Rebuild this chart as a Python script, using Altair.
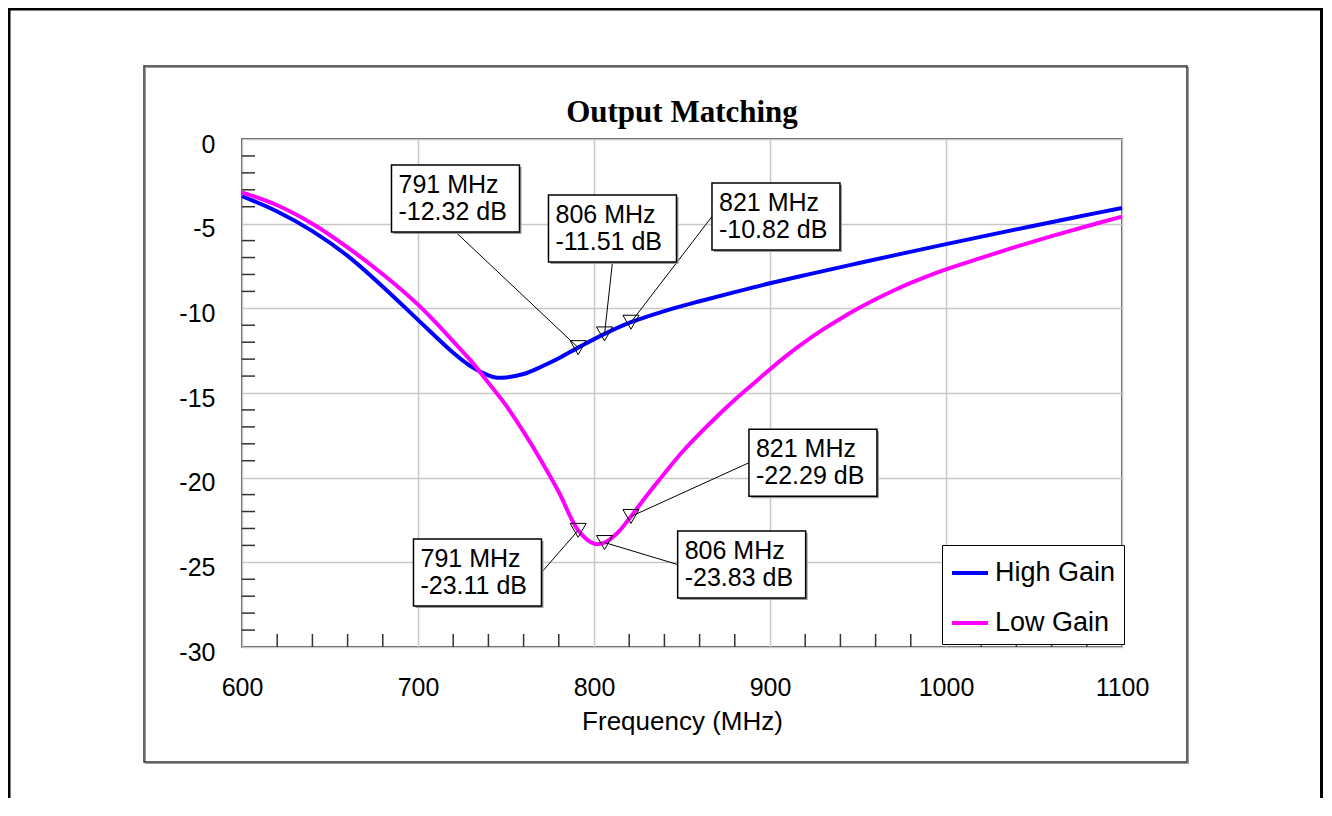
import altair as alt
import pandas as pd

# ---------------- data ----------------
series_names = ["High Gain", "Low Gain"]
series_colors = ["#0000ff", "#ff00ff"]

hg_freq = [600, 620, 640, 660, 680, 700, 720, 730, 740, 745, 750, 760, 770, 780, 791, 806,
           821, 840, 860, 880, 900, 925, 950, 975, 1000, 1025, 1050, 1075, 1100]
hg_db = [-3.38, -4.28, -5.44, -6.90, -8.72, -10.68, -12.62, -13.42, -13.96, -14.10, -14.08,
         -13.88, -13.45, -12.95, -12.32, -11.51, -10.82, -10.16, -9.58, -9.04, -8.52, -7.92,
         -7.34, -6.77, -6.21, -5.66, -5.12, -4.59, -4.07]

lg_freq = [600, 620, 640, 660, 680, 700, 710, 720, 730, 740, 750, 760, 770, 780, 791, 800,
           806, 813, 821, 830, 840, 850, 860, 870, 880, 890, 900, 910, 920, 930, 940, 950,
           960, 970, 980, 990, 1000, 1020, 1040, 1060, 1080, 1100]
lg_db = [-3.15, -3.91, -5.00, -6.40, -7.99, -9.78, -10.83, -11.95, -13.09, -14.40, -15.73,
         -17.30, -19.00, -20.85, -23.11, -23.90, -23.83, -23.30, -22.29, -21.05, -19.75,
         -18.50, -17.40, -16.37, -15.40, -14.50, -13.60, -12.75, -11.97, -11.26, -10.61,
         -10.01, -9.46, -8.96, -8.50, -8.08, -7.70, -7.02, -6.36, -5.74, -5.15, -4.58]

# markers
mk_series = ["High Gain"] * 3 + ["Low Gain"] * 3
mk_freq = [791, 806, 821, 791, 806, 821]
mk_db = [-12.32, -11.51, -10.82, -23.11, -23.83, -22.29]

# marker label placement (box centre in data space) and edge where the leader meets the box
lab_freq = [721.3, 810.5, 903.4, 733.8, 883.9, 924.4]
lab_db = [-3.51, -5.29, -4.58, -25.60, -25.13, -19.12]
lab_side = ["bottom", "bottom", "left", "right", "left", "left"]

# axes
x_major = [600, 700, 800, 900, 1000, 1100]
y_major = [-30, -25, -20, -15, -10, -5, 0]
x_minor = [f for f in range(620, 1100, 20) if f % 100]
y_minor = [v for v in range(-29, 0) if v % 5]

title_text = "Output Matching"
x_title = "Frequency (MHz)"

# ---------------- tables ----------------
curves = pd.DataFrame({
    "freq": hg_freq + lg_freq,
    "db": hg_db + lg_db,
    "series": [series_names[0]] * len(hg_freq) + [series_names[1]] * len(lg_freq),
})
markers = pd.DataFrame({
    "series": mk_series, "freq": mk_freq, "db": mk_db,
    "lab_f": lab_freq, "lab_db": lab_db, "side": lab_side,
    "label": [f"{f} MHz\n{d:.2f} dB" for f, d in zip(mk_freq, mk_db)],
})
xminor_df = pd.DataFrame({"freq": x_minor})
yminor_df = pd.DataFrame({"db": y_minor})
one = pd.DataFrame({"a": [0]})

W, H = 880, 508
FONT = "Liberation Sans"
BW, BH = 64, 33.5  # half box size

x_scale = alt.Scale(domain=[600, 1100], nice=False, zero=False)
y_scale = alt.Scale(domain=[-30, 0], nice=False, zero=False)

x_axis = alt.Axis(values=x_major, labelExpr="datum.value + ''", grid=True,
                  gridColor="#c8c8c8", gridWidth=1.5, domain=False, ticks=False, tickSize=0,
                  labelPadding=28, labelFontSize=25, labelColor="black", labelFont=FONT,
                  labelFlush=False, labelOverlap=False,
                  title=x_title, titleFont=FONT, titleFontSize=26, titleFontWeight="normal",
                  titleColor="black", titleY=82, titleBaseline="alphabetic")
y_axis = alt.Axis(values=y_major, labelExpr="datum.value + ''", grid=True,
                  gridColor="#c8c8c8", gridWidth=1.5, domain=False, ticks=False, tickSize=0,
                  labelPadding=27, labelOffset=5, labelFontSize=25, labelColor="black",
                  labelFont=FONT, labelFlush=False, labelOverlap=False, title=None)


def X(f):
    return alt.X(f, scale=x_scale, axis=x_axis)


def Y(f):
    return alt.Y(f, scale=y_scale, axis=y_axis)


# page border and chart-area box
page_border = alt.Chart(one).mark_rect(fillOpacity=0, stroke="black", strokeWidth=3).encode(
    x=alt.value(-233), x2=alt.value(1079.5), y=alt.value(-130), y2=alt.value(720))
area_shadow = alt.Chart(one).mark_rect(fillOpacity=0, stroke="#999999", strokeWidth=1).encode(
    x=alt.value(-96.5), x2=alt.value(946.5), y=alt.value(-71.5), y2=alt.value(624.5))
area_box = alt.Chart(one).mark_rect(fillOpacity=0, stroke="#333333", strokeWidth=1.5).encode(
    x=alt.value(-98), x2=alt.value(945), y=alt.value(-73), y2=alt.value(623))

title = alt.Chart(one).mark_text(text=title_text, font="Liberation Serif", fontSize=31,
                                 fontWeight="bold", baseline="alphabetic", align="center",
                                 color="black").encode(x=alt.value(W / 2), y=alt.value(-17))

lines = alt.Chart(curves).mark_line(strokeWidth=4, interpolate="catmull-rom").encode(
    x=X("freq:Q"),
    y=Y("db:Q"),
    color=alt.Color("series:N", scale=alt.Scale(domain=series_names, range=series_colors),
                    legend=alt.Legend(title=None, orient="none", legendX=700, legendY=406,
                                      fillColor="white", strokeColor="black", padding=8,
                                      symbolType="stroke", symbolSize=1296,
                                      symbolStrokeWidth=4, labelFontSize=27, labelFont=FONT,
                                      labelColor="black", labelOffset=5, rowPadding=17,
                                      labelLimit=300)),
    detail="series:N",
)

xminor = alt.Chart(xminor_df).mark_rule(color="#333333", strokeWidth=1.5).encode(
    x=X("freq:Q"), y=alt.value(H), y2=alt.value(H - 13))
yminor = alt.Chart(yminor_df).mark_rule(color="#333333", strokeWidth=1.5).encode(
    y=Y("db:Q"), x=alt.value(0), x2=alt.value(13))

mk_base = alt.Chart(markers)
leaders = []
for side, off in [("bottom", dict(y2Offset=BH)), ("left", dict(x2Offset=-BW)),
                  ("right", dict(x2Offset=BW))]:
    leaders.append(mk_base.transform_filter(alt.datum.side == side)
                   .mark_rule(color="black", strokeWidth=1, **off)
                   .encode(x=X("freq:Q"), y=Y("db:Q"), x2="lab_f:Q", y2="lab_db:Q"))

tri = mk_base.mark_point(shape="triangle-down", filled=False, stroke="black", strokeWidth=1,
                         size=260, opacity=1).encode(x=X("freq:Q"), y=Y("db:Q"))

box_shadow = mk_base.mark_rect(fill="#9a9a9a", xOffset=-BW + 2, x2Offset=BW + 2,
                               yOffset=-BH + 2, y2Offset=BH + 2).encode(
    x=X("lab_f:Q"), x2="lab_f:Q", y=Y("lab_db:Q"), y2="lab_db:Q")
boxes = mk_base.mark_rect(fill="white", stroke="black", strokeWidth=1.5, xOffset=-BW,
                          x2Offset=BW, yOffset=-BH, y2Offset=BH).encode(
    x=X("lab_f:Q"), x2="lab_f:Q", y=Y("lab_db:Q"), y2="lab_db:Q")
texts = mk_base.mark_text(align="left", baseline="alphabetic", dx=-BW + 7, dy=-BH + 28,
                          lineBreak="\n", lineHeight=27, fontSize=25, font=FONT,
                          color="black").encode(x=X("lab_f:Q"), y=Y("lab_db:Q"), text="label:N")

chart = alt.layer(
    lines, page_border, area_shadow, area_box, title, xminor, yminor, *leaders, tri,
    box_shadow, boxes, texts,
).properties(
    width=W, height=H,
    padding={"left": 234, "top": 131, "right": 202, "bottom": 151},
    autosize=alt.AutoSizeParams(type="none"),
    background="white",
).configure_view(stroke="#222222", strokeWidth=1.5)

chart.save("out.html", embed_options={"renderer": "svg", "actions": False})
